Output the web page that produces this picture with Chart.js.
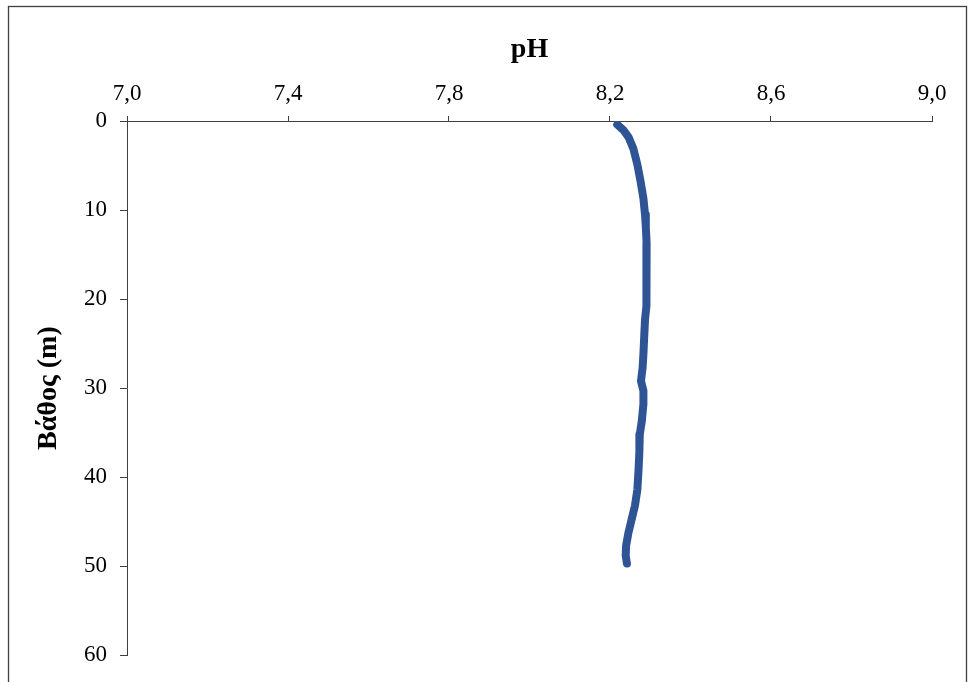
<!DOCTYPE html>
<html>
<head>
<meta charset="utf-8">
<script src="https://cdn.jsdelivr.net/npm/chart.js@4"></script>
<style>
html,body{margin:0;padding:0;background:#fff;}
canvas{display:block;}
</style>
</head>
<body>
<canvas id="c" width="969" height="682"></canvas>
<script>
const depthM = [0.4, 1.0, 1.8, 3.1, 4.9, 6.8, 8.7, 10.5, 11.9, 13.7, 15.6, 17.5, 19.3, 20.8, 22.3, 24.2, 26.2, 27.7, 29.2, 30.3, 31.8, 33.7, 35.2, 37.1, 39.1, 41.4, 43.2, 44.7, 46.2, 47.7, 48.8, 49.7];
const phValues = [8.218, 8.233, 8.246, 8.258, 8.268, 8.276, 8.283, 8.287, 8.289, 8.291, 8.291, 8.290, 8.291, 8.290, 8.287, 8.285, 8.283, 8.281, 8.277, 8.283, 8.283, 8.279, 8.274, 8.273, 8.271, 8.268, 8.262, 8.254, 8.246, 8.240, 8.239, 8.242];
const xTitle = 'pH';
const yTitle = 'Βάθος (m)';

const points = depthM.map((d, i) => ({x: phValues[i], y: d}));

const framePlugin = {
  id: 'frame',
  beforeDraw(chart) {
    const ctx = chart.ctx;
    ctx.save();
    ctx.fillStyle = '#fff';
    ctx.fillRect(0, 0, chart.width, chart.height);
    ctx.strokeStyle = '#404040';
    ctx.lineWidth = 1.3;
    ctx.strokeRect(8.5, 6.5, 958, 720);
    ctx.restore();
  }
};

const fontFam = "'Liberation Serif', 'Times New Roman', serif";
const axisColor = '#404040';

new Chart(document.getElementById('c'), {
  type: 'scatter',
  data: {
    datasets: [{
      data: points,
      showLine: true,
      borderColor: 'rgb(46,84,150)',
      backgroundColor: 'rgb(46,84,150)',
      borderWidth: 8,
      pointRadius: 0,
      borderCapStyle: 'round',
      borderJoinStyle: 'round',
      tension: 0
    }]
  },
  options: {
    responsive: false,
    animation: false,
    layout: {padding: {left: 0, top: 0, right: 37, bottom: 26}},
    plugins: {legend: {display: false}, tooltip: {enabled: false}},
    scales: {
      x: {
        type: 'linear',
        position: 'top',
        min: 7, max: 9,
        afterFit(s) { s.height = 121; },
        ticks: {
          stepSize: 0.4, autoSkip: false, maxRotation: 0,
          color: '#000', padding: 8,
          font: {family: fontFam, size: 23},
          callback: v => v.toFixed(1).replace('.', ',')
        },
        grid: {drawOnChartArea: false, drawTicks: true, tickLength: 5, color: axisColor},
        border: {display: true, color: axisColor, width: 1},
        title: {display: true, text: xTitle, color: '#000', padding: {top: 33, bottom: 0},
          font: {family: fontFam, size: 28, weight: 'bold'}}
      },
      y: {
        type: 'linear',
        reverse: true,
        min: 0, max: 60,
        afterFit(s) { s.width = 127; },
        ticks: {
          stepSize: 10, autoSkip: false,
          color: '#000', padding: 13,
          font: {family: fontFam, size: 23}
        },
        grid: {drawOnChartArea: false, drawTicks: true, tickLength: 7, color: axisColor},
        border: {display: true, color: axisColor, width: 1},
        title: {display: true, text: yTitle, color: '#000', padding: {top: 32, bottom: 0},
          font: {family: fontFam, size: 28, weight: 'bold'}}
      }
    }
  },
  plugins: [framePlugin]
});
</script>
</body>
</html>
